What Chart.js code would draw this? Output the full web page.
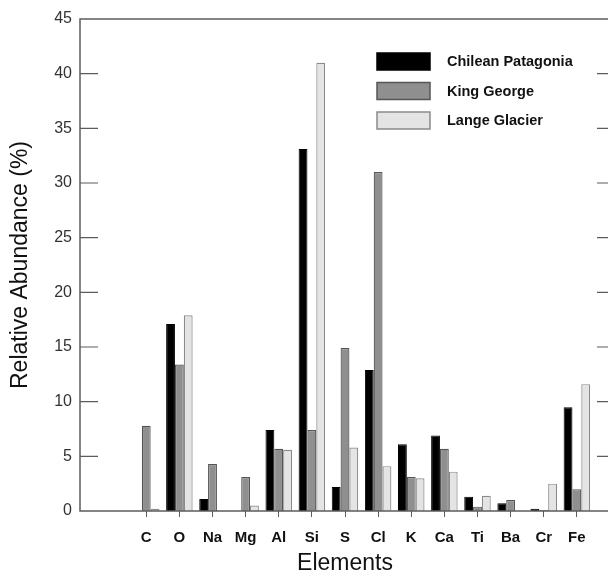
<!DOCTYPE html>
<html>
<head>
<meta charset="utf-8">
<script src="https://cdn.jsdelivr.net/npm/chart.js@4.4.0/dist/chart.umd.min.js"></script>
<style>
    html, body { margin: 0; padding: 0; background: #fff; overflow: hidden; }
    canvas { display: block; }
</style>
</head>
<body>
<canvas id="abundanceChart" width="622" height="575"></canvas>
<script>
// values (% relative abundance)
const elements = ['C', 'O', 'Na', 'Mg', 'Al', 'Si', 'S', 'Cl', 'K', 'Ca', 'Ti', 'Ba', 'Cr', 'Fe'];
const chileanPatagonia = [0, 17.1, 1.1, 0, 7.4, 33.1, 2.2, 12.9, 6.1, 6.9, 1.3, 0.7, 0.2, 9.5];
const kingGeorge = [7.8, 13.4, 4.3, 3.1, 5.7, 7.4, 14.9, 31.0, 3.1, 5.7, 0.4, 1.0, 0.1, 2.0];
const langeGlacier = [0.2, 17.9, 0, 0.5, 5.6, 41.0, 5.8, 4.1, 3.0, 3.6, 1.4, 0, 2.5, 11.6];
const yTicks = [0, 5, 10, 15, 20, 25, 30, 35, 40, 45];

// the x axis leaves two empty slots before C and one after Fe
const leadSlots = ['', ''];
const tailSlots = [''];
const labels = leadSlots.concat(elements, tailSlots);
const pad = arr => leadSlots.map(() => null).concat(arr, tailSlots.map(() => null));

const FONT = '"Liberation Sans", Arial, sans-serif';
const FRAME = '#5c5c5c';

const frameAndTicks = {
    id: 'frameAndTicks',
    afterDraw(chart) {
        const { ctx, chartArea: a, scales } = chart;
        ctx.save();
        ctx.strokeStyle = FRAME;
        ctx.lineWidth = 1.5;
        ctx.strokeRect(a.left, a.top, a.right - a.left, a.bottom - a.top);
        ctx.lineWidth = 1.2;
        yTicks.forEach(v => {
            if (v === 0 || v === 45) return;
            const y = scales.y.getPixelForValue(v);
            ctx.beginPath();
            ctx.moveTo(a.left, y);
            ctx.lineTo(a.left + 18, y);
            ctx.moveTo(a.right, y);
            ctx.lineTo(a.right - 13, y);
            ctx.stroke();
        });
        ctx.restore();
    }
};

const boxLegend = {
    id: 'boxLegend',
    afterDraw(chart) {
        const ctx = chart.ctx;
        ctx.save();
        ctx.font = 'bold 14.5px ' + FONT;
        ctx.textBaseline = 'middle';
        chart.data.datasets.forEach((ds, i) => {
            const top = 53 + i * 29.5;
            ctx.fillStyle = ds.backgroundColor;
            ctx.fillRect(377, top, 53, 17);
            ctx.strokeStyle = ds.borderColor;
            ctx.lineWidth = 1.5;
            ctx.strokeRect(377, top, 53, 17);
            ctx.fillStyle = '#111';
            ctx.fillText(ds.label, 447, top + 9);
        });
        ctx.restore();
    }
};

new Chart(document.getElementById('abundanceChart'), {
    type: 'bar',
    data: {
        labels: labels,
        datasets: [
            { label: 'Chilean Patagonia', data: pad(chileanPatagonia), backgroundColor: '#000000', borderColor: '#000000', borderWidth: 1 },
            { label: 'King George', data: pad(kingGeorge), backgroundColor: '#8f8f8f', borderColor: '#555555', borderWidth: 1.2 },
            { label: 'Lange Glacier', data: pad(langeGlacier), backgroundColor: '#e4e4e4', borderColor: '#8a8a8a', borderWidth: 1.2 }
        ]
    },
    options: {
        responsive: false,
        animation: false,
        categoryPercentage: 0.8,
        barPercentage: 1.0,
        layout: { padding: { top: 19, right: 6, left: 0, bottom: 0 } },
        plugins: { legend: { display: false }, tooltip: { enabled: false } },
        scales: {
            x: {
                offset: false,
                grid: {
                    offset: false,
                    drawOnChartArea: false,
                    tickLength: 6,
                    color: c => (c.tick && c.tick.label) ? FRAME : 'rgba(0,0,0,0)'
                },
                border: { display: false },
                ticks: { autoSkip: false, maxRotation: 0, padding: 12, color: '#111', font: { family: FONT, size: 15, weight: 'bold' } },
                title: { display: true, text: 'Elements', color: '#111', font: { family: FONT, size: 23, lineHeight: 1.0 }, padding: { top: 0, bottom: 0 } },
                afterFit: s => { s.height = 64; }
            },
            y: {
                min: 0,
                max: 45,
                afterBuildTicks: s => { s.ticks = yTicks.map(v => ({ value: v })); },
                grid: { display: false, drawTicks: false },
                border: { display: false },
                ticks: { padding: 8, color: '#333', font: { family: FONT, size: 16 } },
                title: { display: true, text: 'Relative Abundance (%)', color: '#111', font: { family: FONT, size: 23 }, padding: { top: 7, bottom: 0 } },
                afterFit: s => { s.width = 80; }
            }
        }
    },
    plugins: [frameAndTicks, boxLegend]
});
</script>
</body>
</html>
